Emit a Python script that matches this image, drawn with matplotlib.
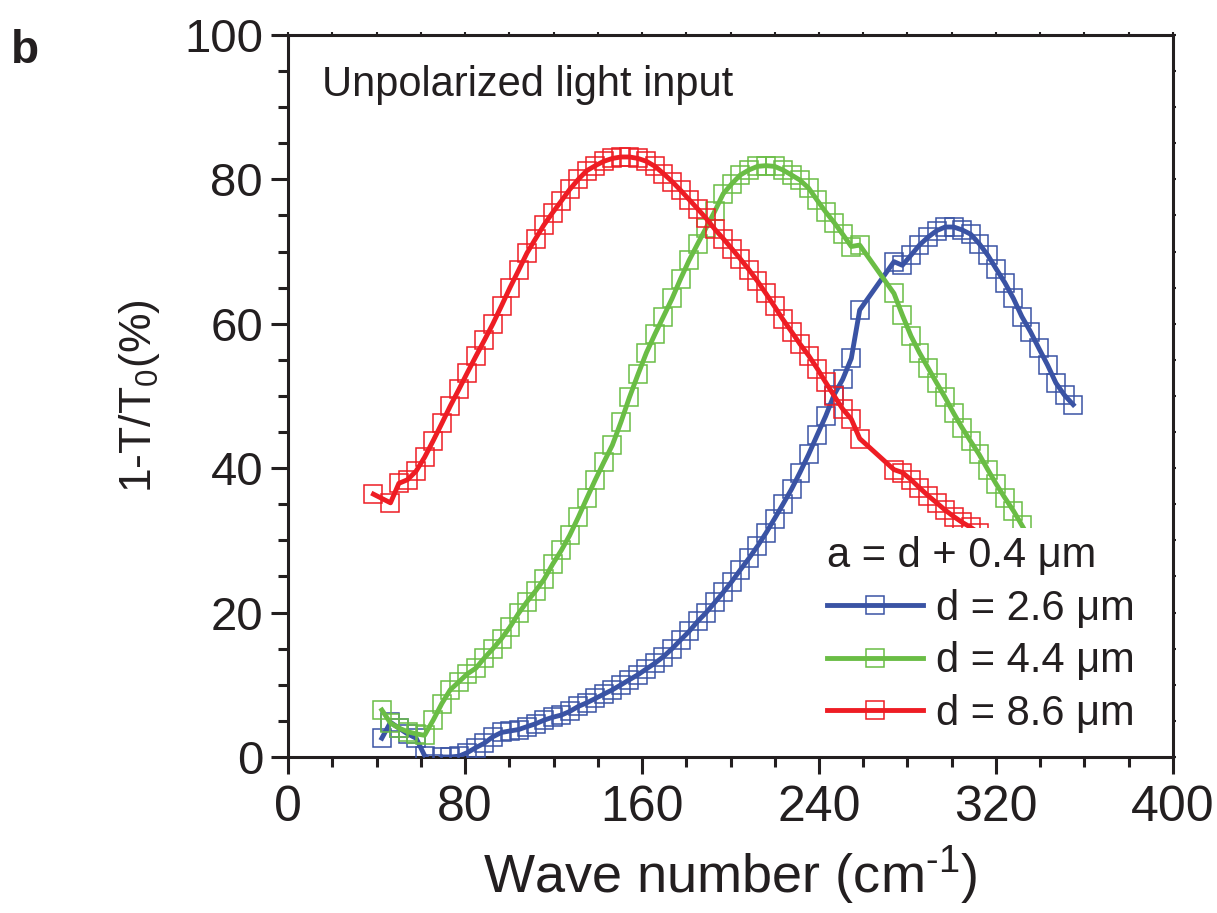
import matplotlib
matplotlib.use("Agg")
import matplotlib.pyplot as plt
from matplotlib.ticker import MultipleLocator

# absorption spectra, 1-T/T0 (%) vs wave number (cm^-1)
wn_d26 = [42.4, 46.3, 50.1, 54.0, 57.9, 61.7, 65.6, 69.5, 73.3, 77.2,
          81.0, 84.9, 88.7, 92.6, 96.5, 100.3, 104.2, 108.0, 111.9, 115.7,
          119.6, 123.5, 127.3, 131.2, 135.0, 138.9, 142.7, 146.6, 150.5, 154.3,
          158.2, 162.0, 165.9, 169.7, 173.6, 177.4, 181.3, 185.2, 189.0, 192.9,
          196.7, 200.6, 204.4, 208.3, 212.2, 216.0, 219.9, 223.7, 227.6, 231.4,
          235.3, 239.2, 243.0, 246.9, 250.7, 254.6, 258.4, 273.9, 277.7, 281.6,
          285.4, 289.3, 293.2, 297.0, 300.9, 304.7, 308.6, 312.4, 316.3, 320.1,
          324.0, 327.9, 331.7, 335.6, 339.4, 343.3, 347.1, 351.0, 354.9]
abs_d26 = [2.6, 4.8, 4.0, 3.2, 2.6, 0.2, -1.0, 0.0, 0.0, 0.1,
           0.6, 1.3, 1.9, 2.8, 3.4, 3.6, 3.8, 4.2, 4.6, 5.1,
           5.5, 5.8, 6.3, 7.0, 7.5, 8.1, 8.7, 9.3, 10.0, 10.7,
           11.4, 12.2, 13.0, 13.9, 15.0, 16.2, 17.4, 18.8, 20.0, 21.4,
           22.8, 24.3, 25.9, 27.5, 29.2, 31.0, 33.0, 35.0, 37.1, 39.4,
           41.9, 44.6, 47.2, 50.2, 52.3, 55.2, 61.9, 68.6, 68.1, 69.5,
           70.9, 72.0, 72.9, 73.4, 73.4, 73.0, 72.4, 71.1, 69.5, 67.6,
           65.7, 63.5, 61.0, 58.9, 56.6, 54.3, 51.8, 50.1, 48.8]

wn_d44 = [42.4, 46.3, 50.1, 54.0, 57.9, 61.7, 65.6, 69.5, 73.3, 77.2,
          81.0, 84.9, 88.7, 92.6, 96.5, 100.3, 104.2, 108.0, 111.9, 115.7,
          119.6, 123.5, 127.3, 131.2, 135.0, 138.9, 142.7, 146.6, 150.5, 154.3,
          158.2, 162.0, 165.9, 169.7, 173.6, 177.4, 181.3, 185.2, 189.0, 192.9,
          196.7, 200.6, 204.4, 208.3, 212.2, 216.0, 219.9, 223.7, 227.6, 231.4,
          235.3, 239.2, 243.0, 246.9, 250.7, 254.6, 258.4, 273.9, 277.7, 281.6,
          285.4, 289.3, 293.2, 297.0, 300.9, 304.7, 308.6, 312.4, 316.3, 320.1,
          324.0, 327.9, 331.7, 335.6]
abs_d44 = [6.5, 4.7, 4.0, 3.5, 3.2, 3.0, 5.1, 7.4, 9.3, 10.4,
           11.5, 12.3, 13.7, 15.0, 16.4, 18.0, 19.9, 21.5, 23.0, 24.6,
           26.7, 28.6, 30.7, 33.2, 35.8, 38.4, 40.8, 43.2, 46.4, 49.8,
           53.0, 56.0, 58.6, 61.0, 63.5, 66.2, 68.8, 71.1, 73.3, 75.6,
           78.0, 79.4, 80.6, 81.3, 81.8, 81.9, 81.8, 81.3, 80.6, 79.9,
           78.8, 77.1, 75.5, 74.0, 72.4, 70.7, 70.9, 64.2, 61.2, 58.3,
           56.0, 53.9, 51.8, 49.8, 47.6, 45.6, 43.7, 41.9, 39.8, 37.8,
           35.9, 34.1, 32.1, 30.0]

wn_d86 = [38.6, 46.3, 50.1, 54.0, 57.9, 61.7, 65.6, 69.5, 73.3, 77.2,
          81.0, 84.9, 88.7, 92.6, 96.5, 100.3, 104.2, 108.0, 111.9, 115.7,
          119.6, 123.5, 127.3, 131.2, 135.0, 138.9, 142.7, 146.6, 150.5, 154.3,
          158.2, 162.0, 165.9, 169.7, 173.6, 177.4, 181.3, 185.2, 189.0, 192.9,
          196.7, 200.6, 204.4, 208.3, 212.2, 216.0, 219.9, 223.7, 227.6, 231.4,
          235.3, 239.2, 243.0, 246.9, 250.7, 254.6, 258.4, 273.9, 277.7, 281.6,
          285.4, 289.3, 293.2, 297.0, 300.9, 304.7, 308.6, 312.4, 316.3, 320.1]
abs_d86 = [36.4, 35.2, 37.9, 38.4, 39.6, 41.5, 43.8, 46.2, 48.6, 50.9,
           53.2, 55.5, 57.7, 60.0, 62.5, 65.0, 67.4, 69.8, 71.8, 73.7,
           75.4, 77.0, 78.6, 80.0, 81.2, 81.9, 82.5, 82.9, 83.1, 83.1,
           82.9, 82.5, 81.8, 80.8, 79.7, 78.5, 77.2, 75.9, 74.6, 73.1,
           71.8, 70.4, 69.0, 67.5, 65.9, 64.2, 62.4, 60.6, 58.9, 57.2,
           55.6, 53.8, 51.9, 50.0, 48.2, 46.8, 44.1, 39.8, 39.4, 38.4,
           37.3, 36.2, 35.2, 34.2, 33.3, 32.5, 31.8, 31.0, 30.2, 29.4]

labels = ["d = 2.6 \u03bcm", "d = 4.4 \u03bcm", "d = 8.6 \u03bcm"]
colors = ["#3A53A4", "#6ABD45", "#EE1D24"]
ink = "#231F20"

plt.rcParams["font.family"] = ["Liberation Sans", "DejaVu Sans"]
plt.rcParams["mathtext.fontset"] = "custom"
plt.rcParams["mathtext.rm"] = "Liberation Sans"
plt.rcParams["mathtext.it"] = "Liberation Sans"

fig = plt.figure(figsize=(12.17, 9.13), dpi=100)
ax = fig.add_axes([0.2367, 0.1709, 0.7271, 0.7908])

series = [(wn_d26, abs_d26), (wn_d44, abs_d44), (wn_d86, abs_d86)]
for (x, y), lab, col in zip(series, labels, colors):
    ax.plot(x, y, color=col, lw=3.5, marker="s", ms=13.5, mfc="none",
            mec=col, mew=1.1, label=lab, zorder=3)

ax.set_xlim(0, 400)
ax.set_ylim(0, 100)
ax.xaxis.set_major_locator(MultipleLocator(80))
ax.xaxis.set_minor_locator(MultipleLocator(20))
ax.yaxis.set_major_locator(MultipleLocator(20))
ax.yaxis.set_minor_locator(MultipleLocator(5))

for s in ax.spines.values():
    s.set_linewidth(2.2)
    s.set_color(ink)
ax.tick_params(which="major", direction="out", length=12, width=2.2,
               color=ink, labelcolor=ink)
ax.tick_params(which="minor", direction="out", length=7, width=2.2,
               color=ink)
ax.tick_params(axis="y", which="major", pad=6, labelsize=34)
ax.tick_params(axis="x", which="major", pad=8, labelsize=36)

# small ticks on the opposite spines
ax2 = ax.secondary_xaxis("top")
ax2.xaxis.set_major_locator(MultipleLocator(20))
ax2.tick_params(direction="out", length=2.5, width=1.5, labeltop=False,
                color=ink)
ax2.spines["top"].set_visible(False)
ax3 = ax.secondary_yaxis("right")
ax3.yaxis.set_major_locator(MultipleLocator(5))
ax3.tick_params(direction="out", length=2.5, width=1.5, labelright=False,
                color=ink)
ax3.spines["right"].set_visible(False)

ax.set_xlabel(r"Wave number (cm$^{\text{-1}}$)", fontsize=39,
              color=ink, labelpad=10)
ax.set_ylabel(r"1-T/T$_{\text{0}}$(%)", fontsize=32, color=ink, labelpad=16)

ax.text(0.038, 0.958, "Unpolarized light input", transform=ax.transAxes,
        fontsize=30, color=ink, ha="left", va="top")
fig.text(0.009, 0.968, "b", fontsize=33, fontweight="bold", color=ink,
         ha="left", va="top")

leg = ax.legend(loc="upper left", bbox_to_anchor=(0.6, 0.317),
                title="a = d + 0.4 \u03bcm", fontsize=30, title_fontsize=30,
                frameon=True, fancybox=False, borderpad=0.2,
                borderaxespad=0, handlelength=2.3, handletextpad=0.3,
                labelspacing=0.3, markerscale=1.0)
leg.get_frame().set_edgecolor("none")
leg.get_frame().set_facecolor("white")
leg.get_frame().set_alpha(1)
leg._legend_box.align = "left"
leg.set_zorder(5)
for t in leg.get_texts():
    t.set_color(ink)
leg.get_title().set_color(ink)

fig.savefig("out.png", dpi=100)
